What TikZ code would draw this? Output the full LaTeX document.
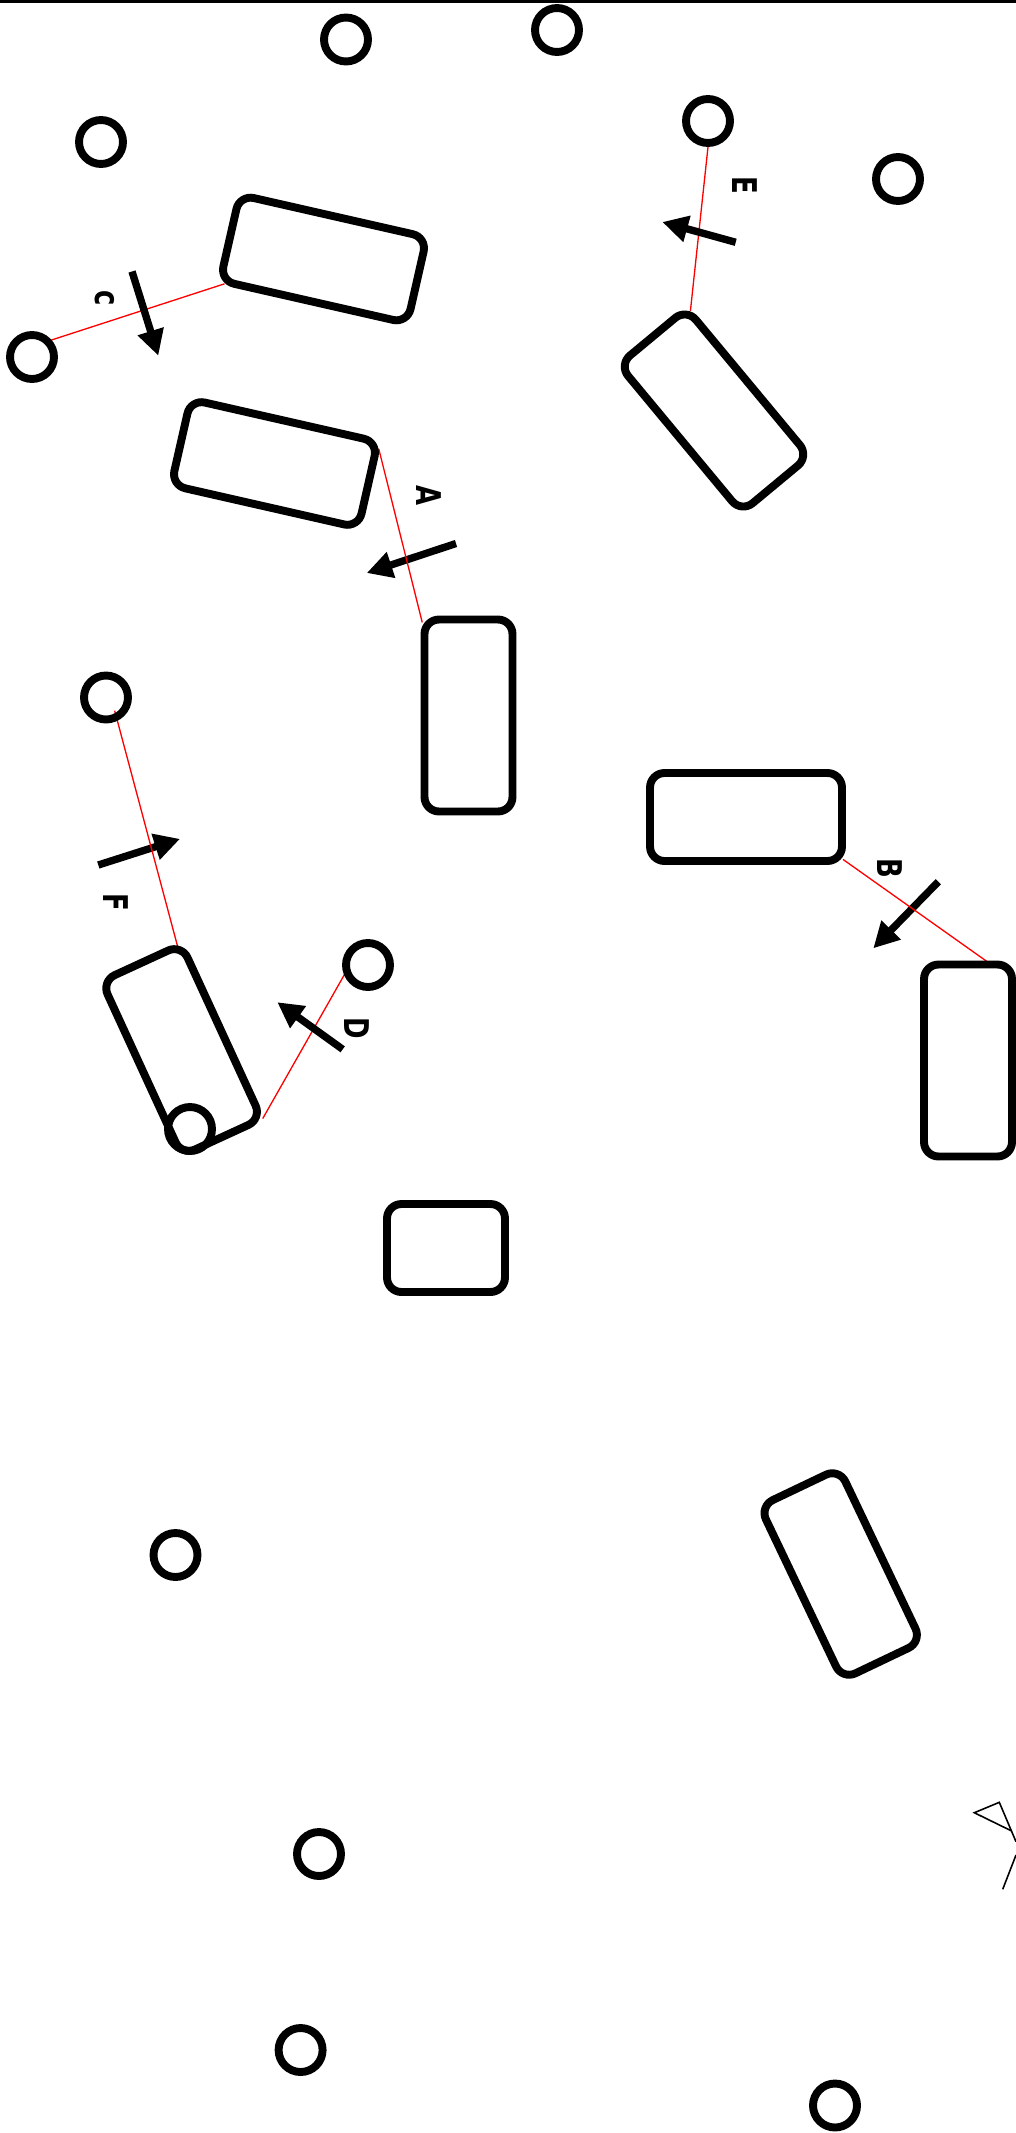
\documentclass[tikz,border=0pt]{standalone}
\usepackage{fontspec}
\usepackage{xcolor}
\usepackage{tikz}
\usetikzlibrary{arrows.meta,backgrounds}
\newfontfamily\lblfont[FakeStretch=0.76]{DejaVu Sans}

\begin{document}
\begin{tikzpicture}[
      x=0.02cm, y=-0.02cm,
      carbox/.style={draw, line width=4.5pt, rounded corners=2.9mm, minimum width=3.84cm,
                    minimum height=1.76cm, inner sep=0pt},
      shortbox/.style={carbox, minimum width=2.36cm},
      dot/.style={draw, circle, line width=4.5pt, minimum size=0.88cm, inner sep=0pt},
      arrow/.style={-{Triangle[length=14.6pt,width=14.6pt]}, line width=4.2pt},
      redline/.style={red, line width=0.75pt, shorten <=-2pt, shorten >=-2pt},
      tag/.style={font=\lblfont\bfseries\fontsize{19.4}{21}\selectfont, rotate=-90, inner sep=0pt}
  ]
  \useasboundingbox (0,0) rectangle (1016,2133);

  %% ---- Top edge ----
  \coordinate (top_l) at (0,1.2);
  \coordinate (top_r) at (1016,1.2);
  \draw[line width=1.6pt] (top_l) -- (top_r);

  %% ---- Boxes ----
  \node[carbox, rotate=-12.8] (box_c) at (323.5,259) {};
  \node[carbox, rotate=-12.8] (box_a) at (274.5,463.5) {};
  \node[carbox, rotate=-50.3] (box_e) at (714,410.5) {};
  \node[carbox, rotate=90] (box_m) at (468.5,715.5) {};
  \node[carbox] (box_b) at (746,817) {};
  \node[carbox, rotate=90] (box_r) at (968,1060.5) {};
  \node[carbox, rotate=-65.3] (box_f) at (181.6,1050) {};
  \node[shortbox] (box_s) at (446,1248) {};
  \node[carbox, rotate=-64.5] (box_l) at (840.7,1574) {};

  %% ---- Dots ----
  \node[dot] (dot_1) at (346,39.5) {};
  \node[dot] (dot_2) at (101,142) {};
  \node[dot] (dot_3) at (32,357) {};
  \node[dot] (dot_4) at (557,30) {};
  \node[dot] (dot_5) at (708,121) {};
  \node[dot] (dot_6) at (898,179) {};
  \node[dot] (dot_7) at (106,697.5) {};
  \node[dot] (dot_8) at (368,965) {};
  \node[dot] (dot_9) at (190,1129) {};
  \node[dot] (dot_10) at (175.5,1555) {};
  \node[dot] (dot_11) at (319,1854) {};
  \node[dot] (dot_12) at (300.6,2050) {};
  \node[dot] (dot_13) at (835,2105.5) {};

  %% ---- Arrow ends ----
  \coordinate (a_tail) at (456,543.5);
  \coordinate (a_tip) at (366.7,573);
  \coordinate (b_tail) at (938.3,881.7);
  \coordinate (b_tip) at (873.3,948.3);
  \coordinate (c_tail) at (132,271.5);
  \coordinate (c_tip) at (158.3,355.7);
  \coordinate (d_tail) at (342.7,1049.3);
  \coordinate (d_tip) at (277.3,1002.2);
  \coordinate (e_tail) at (735.7,242.3);
  \coordinate (e_tip) at (662.3,222);
  \coordinate (f_tail) at (98.3,865);
  \coordinate (f_tip) at (180,838.9);

  %% ---- Red links, under the boxes ----
  \begin{pgfonlayer}{background}
    % these three arrows lie under their links
    \draw[arrow] (a_tail) -- (a_tip);
    \draw[arrow] (b_tail) -- (b_tip);
    \draw[arrow] (f_tail) -- (f_tip);

    \draw[redline, shorten >=-4pt] (box_a.19) -- (box_m.north east);
    \draw[redline] (box_b.336) -- (box_r.350);
    \draw[redline] (dot_3.41) -- (box_c.207);
    \draw[redline] (dot_8.203) -- (box_f.27);
    \draw[redline] (dot_5.south) -- (box_e.153);
    \draw[redline, shorten <=-6pt, shorten >=-7pt] (dot_7.296) -- (box_f.158);
  \end{pgfonlayer}

  %% ---- Arrows over their links ----
  \draw[arrow] (c_tail) -- (c_tip);
  \draw[arrow] (d_tail) -- (d_tip);
  \draw[arrow] (e_tail) -- (e_tip);

  %% ---- Labels ----
  \node[tag] (tag_a) at (429.3,496) {A};
  \node[tag] (tag_b) at (890,868.3) {B};
  \node[tag] (tag_c) at (105.3,298.4) {c};
  \node[tag] (tag_d) at (356.7,1028.3) {D};
  \node[tag] (tag_e) at (744.7,185) {E};
  \node[tag] (tag_f) at (115.7,902) {F};

  %% ---- Figure at the right edge ----
  \draw[line width=0.9pt] (1016,1841.7) -- (999.3,1802.3) -- (974.3,1812.7) -- (1011.7,1831);
  \draw[line width=0.9pt] (1016,1855) -- (1002.7,1889.3);

\end{tikzpicture}
\end{document}
